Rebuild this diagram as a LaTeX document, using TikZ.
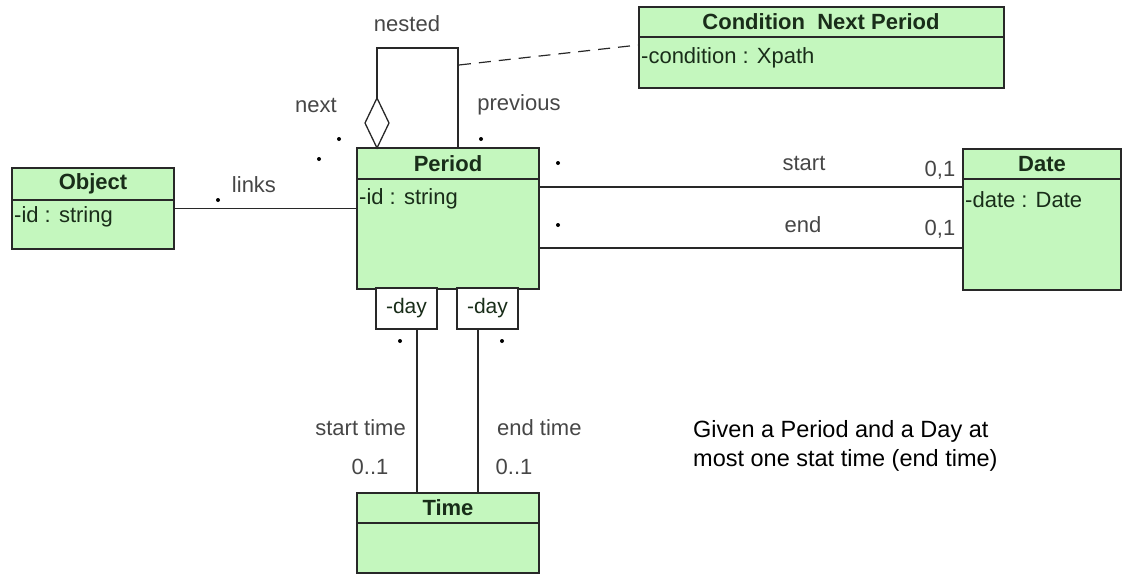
\documentclass[tikz,border=0pt]{standalone}
\usepackage{fontspec}
\setmainfont{Liberation Sans}
\usetikzlibrary{calc}
\definecolor{clsfill}{RGB}{196,247,190}
\definecolor{clsline}{RGB}{40,40,40}
\definecolor{clstext}{RGB}{25,45,25}
\definecolor{lbltext}{RGB}{70,70,70}
\tikzset{
  cls/.style={draw=clsline, fill=clsfill, line width=1.3pt, inner sep=0pt},
  qualbox/.style={draw=clsline, fill=white, line width=1.3pt, inner sep=0pt, minimum width=61pt, minimum height=41pt, text=clstext, font=\fontsize{21}{25}\selectfont},
  hdr/.style={font=\fontsize{22}{26}\selectfont\bfseries, text=clstext, inner sep=0pt},
  attr/.style={font=\fontsize{22}{26}\selectfont, text=clstext, inner sep=0pt, anchor=west},
  lbl/.style={font=\fontsize{22}{26}\selectfont, text=lbltext, inner sep=0pt},
  conn/.style={draw=clsline, line width=1.3pt},
  mult/.style={circle, fill=black, inner sep=0pt, minimum size=4pt},
  divider/.style={draw=clsline, line width=1.3pt}
}
\begin{document}
\begin{tikzpicture}[x=1pt,y=-1pt]
\useasboundingbox (0,0) rectangle (1122,574);

% ---- classes ----
\node[cls, minimum width=365pt, minimum height=81pt] (cond) at (821.5,47.5) {};
\draw[divider] (639,37) -- (1004,37);
\node[hdr] (condh) at (821,22) {Condition\ \ Next Period};
\node[attr] (conda) at (641,58) {-condition : Xpath};

\node[cls, minimum width=162pt, minimum height=81pt] (object) at (93,208.5) {};
\draw[divider] (12,200) -- (174,200);
\node[hdr] (objh) at (93,184) {Object};
\node[attr] (obja) at (14,217) {-id : string};

\node[cls, minimum width=182pt, minimum height=141pt] (period) at (448,218.5) {};
\draw[divider] (357,179) -- (539,179);
\node[hdr] (perh) at (448,164) {Period};
\node[attr] (pera) at (359,199) {-id : string};

\node[cls, minimum width=158pt, minimum height=141pt] (date) at (1042,219.5) {};
\draw[divider] (963,179) -- (1121,179);
\node[hdr] (dateh) at (1042,164) {Date};
\node[attr] (datea) at (965,200) {-date : Date};

\node[cls, minimum width=182pt, minimum height=80pt] (time) at (448,533) {};
\draw[divider] (357,523) -- (539,523);
\node[hdr] (timeh) at (448,508) {Time};

\node[qualbox] (dayl) at (406.5,308.5) {-day};
\node[qualbox] (dayr) at (487.5,308.5) {-day};

% ---- connectors ----
\draw[conn] (object.east) -- (period.west |- object.east);

\coordinate (ps) at (539,187);
\coordinate (pe) at (539,248);
\draw[conn] (ps) -- (date.west |- ps);
\draw[conn] (pe) -- (date.west |- pe);

\coordinate (dl) at (417,329);
\coordinate (dr) at (478,329);
\draw[conn] (dl) -- (dl |- time.north);
\draw[conn] (dr) -- (dr |- time.north);

% nested self association with aggregation diamond
\coordinate (nb) at (377,148);
\coordinate (nt) at (377,98);
\coordinate (tl) at (377,48);
\coordinate (tr) at (458,48);
\coordinate (pr) at (458,148);
\draw[conn, fill=white] (nb) -- (389,123) -- (nt) -- (365,123) -- cycle;
\draw[conn] (nt) -- (tl) -- (tr) -- (pr);

% dashed link to association class
\coordinate (dash0) at (459,65);
\draw[conn, line width=1.2pt, dash pattern=on 12pt off 8pt] (dash0) -- (cond.west |- 0,45);

% ---- labels ----
\node[lbl] (lnested) at (407,24) {nested};
\node[lbl] (lnext) at (316,105) {next};
\node[lbl] (lprev) at (519,105) {previous};
\node[lbl] (llinks) at (254,185) {links};
\node[lbl] (lstart) at (804,163) {start};
\node[lbl] (lend) at (803,225) {end};
\node[lbl] (m01a) at (940,170) {0,1};
\node[lbl] (m01b) at (940,229) {0,1};
\node[lbl, anchor=east] (lst) at (406,428) {start time};
\node[lbl, anchor=west] (let) at (497,428) {end time};
\node[lbl] (m01c) at (370,467) {0..1};
\node[lbl] (m01d) at (514,467) {0..1};

% multiplicity stars
\node[mult] (s1) at (339,139) {};
\node[mult] (s2) at (319,159) {};
\node[mult] (s3) at (481,139) {};
\node[mult] (s4) at (558,163) {};
\node[mult] (s5) at (558,225) {};
\node[mult] (s6) at (218,200) {};
\node[mult] (s7) at (400,341) {};
\node[mult] (s8) at (502,341) {};

% note
\node[font=\fontsize{23.5}{29}\selectfont, align=left, anchor=west, inner sep=0pt] (note) at (693,446) {Given a Period and a Day at\\most one stat time (end time)};
\end{tikzpicture}
\end{document}
